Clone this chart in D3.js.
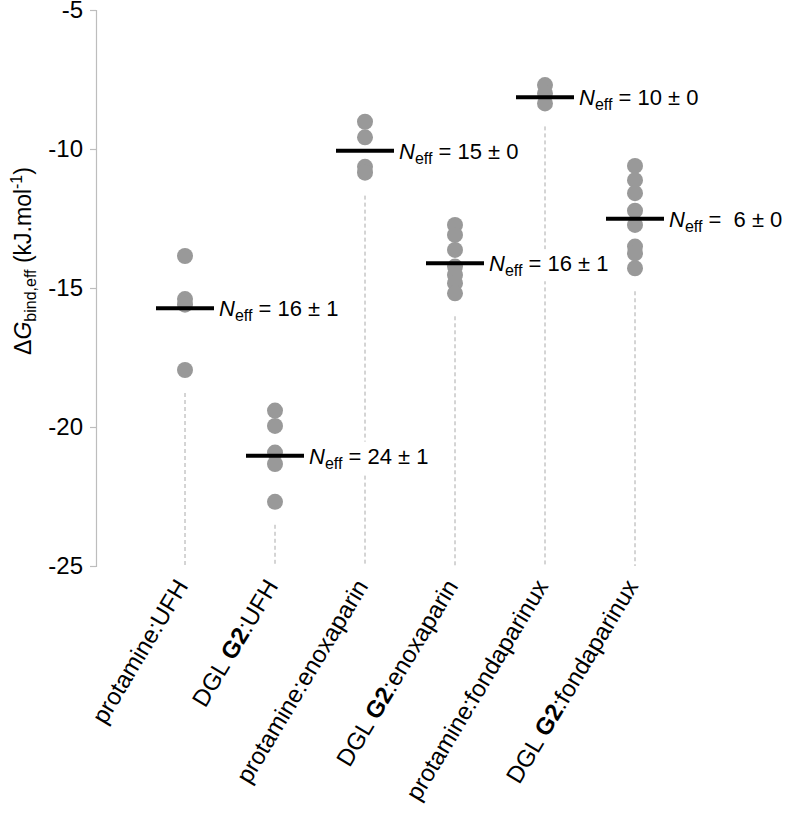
<!DOCTYPE html>
<html>
<head>
<meta charset="utf-8">
<script src="https://cdn.jsdelivr.net/npm/d3@7"></script>
<style>
  html, body { margin: 0; padding: 0; background: #fff; }
  svg text { font-family: "Liberation Sans", Arial, sans-serif; }
</style>
</head>
<body>
<svg id="chart" width="790" height="820"></svg>
<script>
// ---------- data ----------
const categories = [
  ["protamine:UFH", "", ""],
  ["DGL ", "G2", ":UFH"],
  ["protamine:enoxaparin", "", ""],
  ["DGL ", "G2", ":enoxaparin"],
  ["protamine:fondaparinux", "", ""],
  ["DGL ", "G2", ":fondaparinux"]
];
const catKeys = ["p_UFH", "G2_UFH", "p_enox", "G2_enox", "p_fonda", "G2_fonda"];
const pointsUFHp   = [-13.85, -15.4, -15.6, -17.95];
const pointsUFHg   = [-19.41, -19.96, -20.92, -21.33, -22.69];
const pointsEnoxP  = [-9.02, -9.58, -10.64, -10.85];
const pointsEnoxG  = [-12.73, -13.09, -13.63, -14.23, -14.53, -14.83, -15.19];
const pointsFondaP = [-7.70, -8.0, -8.36];
const pointsFondaG = [-10.61, -11.12, -11.59, -12.22, -12.73, -13.51, -13.75, -14.29];
const seriesPoints = [pointsUFHp, pointsUFHg, pointsEnoxP, pointsEnoxG, pointsFondaP, pointsFondaG];
const means = [-15.73, -21.03, -10.06, -14.11, -8.14, -12.51];
const neffLabels = [" = 16 ± 1", " = 24 ± 1", " = 15 ± 0", " = 16 ± 1", " = 10 ± 0", " =  6 ± 0"];
const yTicks = [-25, -20, -15, -10, -5];

// ---------- layout ----------
const svg = d3.select("#chart");
const y = d3.scaleLinear().domain([-25, -5]).range([566, 10]);
const x = d3.scaleBand().domain(catKeys).range([140, 680]);
const cx = k => x(k) + x.bandwidth() / 2;
const FS = 24;

// y axis
const yAxis = d3.axisLeft(y).tickValues(yTicks).tickFormat(d => String(d)).tickSize(6).tickPadding(7);
const gy = svg.append("g").attr("transform", "translate(96,0)").call(yAxis);
gy.select(".domain").attr("stroke", "#bdbdbd").attr("stroke-width", 1.2);
gy.selectAll(".tick line").attr("stroke", "#bdbdbd").attr("stroke-width", 1.2);
gy.selectAll(".tick text").attr("font-size", FS).attr("fill", "#000")
  .attr("font-family", "Liberation Sans, Arial, sans-serif");

// y title
const yt = svg.append("text")
  .attr("transform", "translate(31,261) rotate(-90)")
  .attr("text-anchor", "middle")
  .attr("font-size", 23);
yt.append("tspan").text("Δ");
yt.append("tspan").attr("font-style", "italic").text("G");
yt.append("tspan").attr("font-size", 16).attr("dy", 5).text("bind,eff");
yt.append("tspan").attr("dy", -5).text(" (kJ.mol");
yt.append("tspan").attr("font-size", 16).attr("dy", -9).text("-1");
yt.append("tspan").attr("dy", 9).text(")");

// dashed guides
catKeys.forEach((k, i) => {
  const low = d3.min(seriesPoints[i]);
  svg.append("line")
    .attr("x1", cx(k)).attr("x2", cx(k))
    .attr("y1", y(low) + 8 + 15).attr("y2", 566)
    .attr("stroke", "#aaaaaa").attr("stroke-width", 1)
    .attr("stroke-dasharray", "4,3");
});

// points
catKeys.forEach((k, i) => {
  svg.append("g").selectAll("circle").data(seriesPoints[i]).join("circle")
    .attr("cx", cx(k)).attr("cy", d => y(d)).attr("r", 8)
    .attr("fill", "#999999");
});

// mean lines
svg.append("g").selectAll("line").data(catKeys).join("line")
  .attr("x1", k => cx(k) - 29).attr("x2", k => cx(k) + 29)
  .attr("y1", (k, i) => y(means[i])).attr("y2", (k, i) => y(means[i]))
  .attr("stroke", "#000").attr("stroke-width", 4);

// N_eff labels with white background
catKeys.forEach((k, i) => {
  const g = svg.append("g");
  const t = g.append("text")
    .attr("x", cx(k) + 34).attr("y", y(means[i]) + 8)
    .attr("font-size", 22).attr("xml:space", "preserve").style("white-space", "pre");
  t.append("tspan").attr("font-style", "italic").text("N");
  t.append("tspan").attr("font-size", 16).attr("dy", 5).text("eff");
  t.append("tspan").attr("dy", -5).text(neffLabels[i]);
  const bb = t.node().getBBox();
  g.insert("rect", "text")
    .attr("x", bb.x - 1).attr("y", bb.y - 2)
    .attr("width", bb.width + 2).attr("height", bb.height + 4)
    .attr("fill", "#fff");
});

// category labels
catKeys.forEach((k, i) => {
  const c = categories[i];
  const t = svg.append("text")
    .attr("transform", `translate(${cx(k) + 4},${586}) rotate(-59)`)
    .attr("text-anchor", "end")
    .attr("font-size", FS).attr("xml:space", "preserve").style("white-space", "pre");
  t.append("tspan").text(c[0]);
  if (c[1]) t.append("tspan").attr("font-weight", "bold").text(c[1]);
  if (c[2]) t.append("tspan").text(c[2]);
});
</script>
</body>
</html>
